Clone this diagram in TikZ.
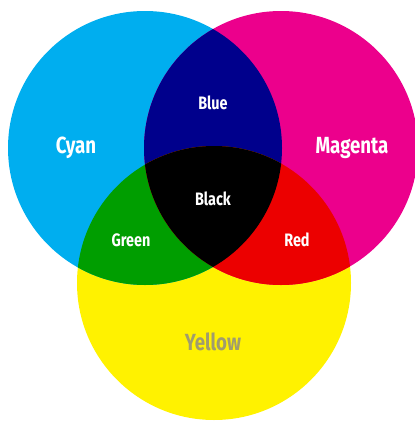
\documentclass[tikz,border=0pt]{standalone}
\usepackage{fontspec}
\usepackage{tikz}
\newfontfamily\labelfont{Fira Sans}[FakeStretch=0.8]
\definecolor{inkcyan}{RGB}{0,174,239}
\definecolor{inkmagenta}{RGB}{236,0,140}
\definecolor{inkyellow}{RGB}{255,242,0}
\definecolor{mixblue}{RGB}{0,0,140}
\definecolor{mixgreen}{RGB}{0,158,0}
\definecolor{mixred}{RGB}{236,0,0}
\definecolor{labelgray}{RGB}{160,156,110}

\begin{document}
\begin{tikzpicture}[x=0.75pt, y=-0.75pt,
  big/.style={text=white, font=\labelfont\bfseries\fontsize{17.5}{19}\selectfont},
  small/.style={text=white, font=\labelfont\bfseries\fontsize{13.5}{15}\selectfont}]
\def\rad{137}
\useasboundingbox (0,0) rectangle (414,421);
% the three inks
\coordinate (c) at (145,148);
\coordinate (m) at (281,148);
\coordinate (y) at (214,283);
\fill[inkyellow] (y) circle (\rad);
\fill[inkcyan] (c) circle (\rad);
\fill[inkmagenta] (m) circle (\rad);
% overlaps
\begin{scope}
  \clip (c) circle (\rad);
  \fill[mixblue] (m) circle (\rad);
  \fill[mixgreen] (y) circle (\rad);
\end{scope}
\begin{scope}
  \clip (m) circle (\rad);
  \fill[mixred] (y) circle (\rad);
  \clip (c) circle (\rad);
  \fill[black] (y) circle (\rad);
\end{scope}
% labels
\node[big] (cyan) at (76,148) {Cyan};
\node[big] (magenta) at (352,148) {Magenta};
\node[big, text=labelgray] (yellow) at (213,342) {Yellow};
\node[small] (blue) at (213,103) {Blue};
\node[small] (black) at (213,199) {Black};
\node[small] (green) at (131,240) {Green};
\node[small] (red) at (297,240) {Red};
\end{tikzpicture}
\end{document}
